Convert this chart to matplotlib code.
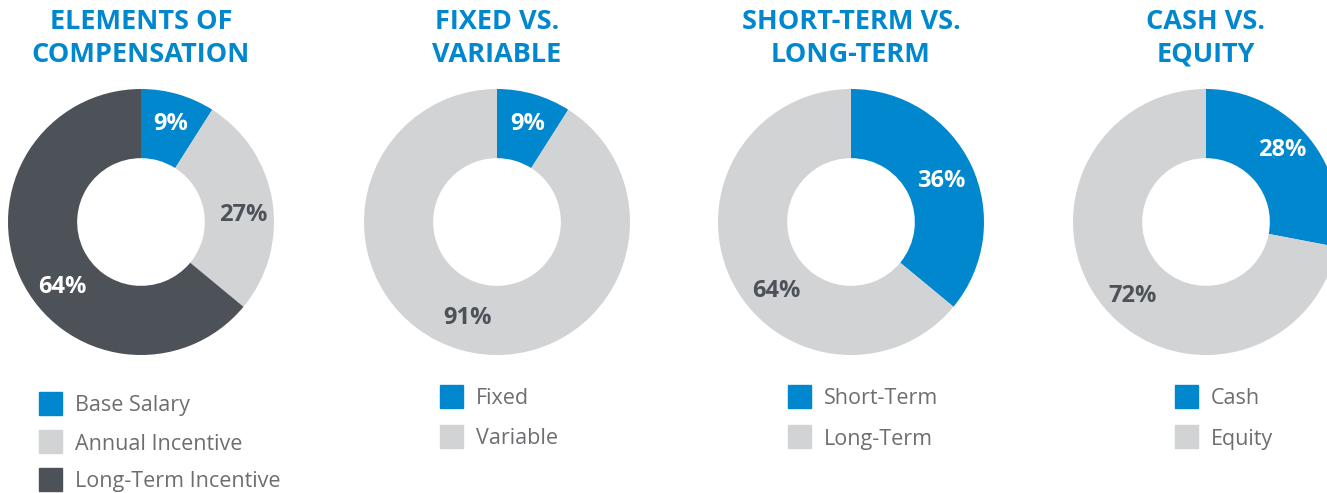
import matplotlib.pyplot as plt
from matplotlib.patches import Rectangle

W, H = 1327, 493

BLUE = "#0087cd"
LIGHT = "#d1d3d4"
DARK = "#4d5259"
TEXT_GRAY = "#6d6e71"

# data
titles = ["ELEMENTS OF\nCOMPENSATION", "FIXED VS.\nVARIABLE",
          "SHORT-TERM VS.\nLONG-TERM", "CASH VS.\nEQUITY"]
categories = [["Base Salary", "Annual Incentive", "Long-Term Incentive"],
              ["Fixed", "Variable"],
              ["Short-Term", "Long-Term"],
              ["Cash", "Equity"]]
values = [[9, 27, 64],
          [9, 91],
          [36, 64],
          [28, 72]]
colors = [[BLUE, LIGHT, DARK],
          [BLUE, LIGHT],
          [BLUE, LIGHT],
          [BLUE, LIGHT]]

# layout (pixels)
centers_x = [141, 497, 851, 1206]
center_y = 222
radius = 133
label_pos = [[(0.22, 0.74), (0.77, 0.05), (-0.59, -0.49)],
             [(0.23, 0.74), (-0.22, -0.72)],
             [(0.68, 0.31), (-0.56, -0.52)],
             [(0.57, 0.54), (-0.55, -0.56)]]
legend_x = [39, 440, 788, 1175]
legend_y0 = [404, 397, 397, 397]
legend_step = [38, 40, 40, 40]

fig = plt.figure(figsize=(W / 100, H / 100), dpi=100)


def fx(x):
    return x / W


def fy(y):
    return 1 - y / H


for i in range(4):
    cx = centers_x[i]
    ax = fig.add_axes([fx(cx - radius), fy(center_y + radius),
                       2 * radius / W, 2 * radius / H])
    ax.pie(values[i], colors=colors[i], startangle=90, counterclock=False,
           radius=1, wedgeprops=dict(width=0.52, linewidth=0))
    ax.set_xlim(-1, 1)
    ax.set_ylim(-1, 1)
    ax.set_aspect("equal")
    ax.axis("off")

    for v, c, (lx, ly) in zip(values[i], colors[i], label_pos[i]):
        tc = DARK if c == LIGHT else "white"
        ax.text(lx, ly, f"{v}%", ha="center", va="center", color=tc,
                fontsize=17, fontweight="bold", family="Open Sans")

    line1, line2 = titles[i].split("\n")
    fig.text(fx(cx), fy(22), line1, ha="center", va="center",
             color=BLUE, fontsize=19.5, fontweight="bold", family="Open Sans")
    fig.text(fx(cx), fy(55), line2, ha="center", va="center",
             color=BLUE, fontsize=19.5, fontweight="bold", family="Open Sans")

    for j, (name, c) in enumerate(zip(categories[i], colors[i])):
        y = legend_y0[i] + j * legend_step[i]
        fig.patches.append(Rectangle((fx(legend_x[i]), fy(y + 11)), 23 / W, 23 / H,
                                     color=c, transform=fig.transFigure, figure=fig))
        fig.text(fx(legend_x[i] + 36), fy(y + 2), name, ha="left", va="center",
                 color=TEXT_GRAY, fontsize=15.5, family="Open Sans")

fig.savefig("out.png", dpi=100)
